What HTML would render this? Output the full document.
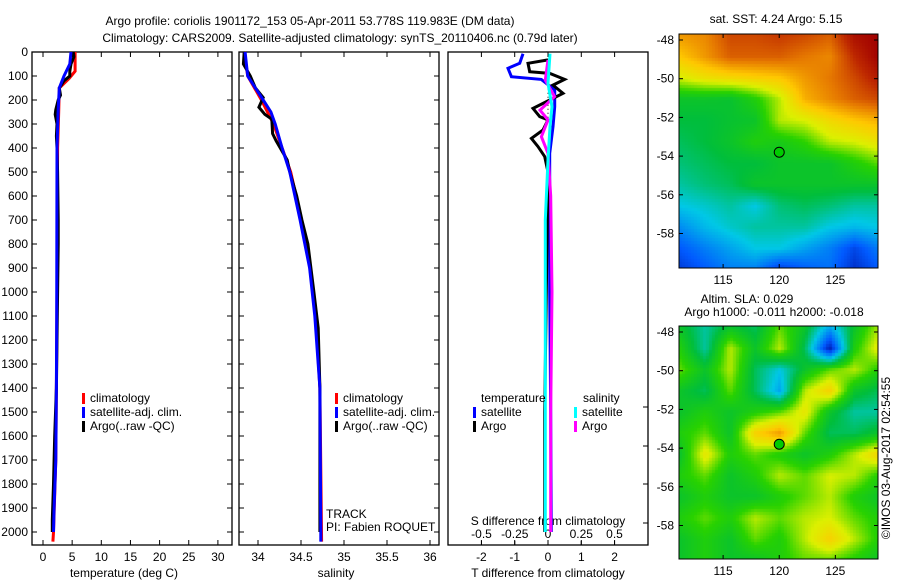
<!DOCTYPE html>
<html><head><meta charset="utf-8">
<style>
html,body{margin:0;padding:0;background:#fff;}
#wrap{position:relative;width:900px;height:580px;overflow:hidden;font-family:"Liberation Sans",sans-serif;}
svg text{font-family:"Liberation Sans",sans-serif;font-size:12px;fill:#000;}
canvas{position:absolute;}
</style></head>
<body>
<div id="wrap">
<canvas id="sst" width="199" height="234" style="left:679px;top:34px"></canvas>
<canvas id="sla" width="199" height="233" style="left:679px;top:326px"></canvas>
<svg id="svg" width="900" height="580" style="position:absolute;left:0;top:0"></svg>
</div>
<script>
// ---------- data ----------
const depthTicks=[0,100,200,300,400,500,600,700,800,900,1000,1100,1200,1300,1400,1500,1600,1700,1800,1900,2000];
const tempTicks=[0,5,10,15,20,25,30];
const salTicks=[34,34.5,35,35.5,36];
const salTickLabels=["34","34.5","35","35.5","36"];
const tdiffTicks=[-2,-1,0,1,2];
const sdiffTicks=[-0.5,-0.25,0,0.25,0.5];
const sdiffTickLabels=["-0.5","-0.25","0","0.25","0.5"];

const argoTdepth=[0,20,50,80,100,120,150,180,200,240,260,300,350,400,500,700,800,1000,1200,1400,1600,1800,1950,2000];
const argoTval=[5.2,5.3,4.8,4.6,4.6,3.6,2.8,3.0,2.6,2.2,2.1,2.4,2.3,2.4,2.5,2.6,2.6,2.5,2.4,2.3,2.0,1.8,1.6,1.6];
const climTdepth=[0,80,110,150,250,400,700,1000,1400,1700,2000,2040];
const climTval=[5.5,5.5,4.5,2.8,2.7,2.5,2.45,2.4,2.3,2.2,1.8,1.7];
const satTdepth=[0,50,100,150,240,400,1100,1400,1700,1900,2000];
const satTval=[4.8,4.6,3.6,2.8,2.6,2.4,2.35,2.3,2.2,1.9,1.8];

const argoSdepth=[0,50,100,150,190,230,260,280,340,370,450,500,600,700,800,1000,1150,1400,1600,2000];
const argoSval=[33.84,33.83,33.91,33.97,34.06,34.01,34.08,34.16,34.17,34.21,34.34,34.37,34.45,34.51,34.58,34.65,34.70,34.72,34.72,34.72];
const climSdepth=[0,100,200,300,500,800,1100,1400,2040];
const climSval=[33.84,33.88,34.04,34.18,34.38,34.57,34.67,34.72,34.74];
const satSdepth=[0,100,150,200,250,300,400,500,700,900,1100,1400,2000,2040];
const satSval=[33.85,33.88,33.97,34.06,34.15,34.2,34.28,34.37,34.49,34.6,34.66,34.72,34.73,34.73];

const satTdiffDepth=[7,47,68,103,114,158,228,311,422,600,1000,1500,2000];
const satTdiffVal=[-0.75,-0.85,-1.2,-1.1,-0.2,0.2,0.2,0.15,0.05,0.05,0.05,0.08,0.1];
const argoTdiffDepth=[33,47,82,89,114,138,172,200,235,269,283,325,360,394,436,500,1000,1500,2000];
const argoTdiffVal=[0,-0.6,-0.55,0.05,0.5,0.15,0.45,0.05,-0.45,-0.25,0,-0.15,-0.5,-0.3,-0.1,0,-0.05,-0.1,-0.1];
const argoSdiffDepth=[33,117,186,242,283,353,422,600,1000,1500,2000];
const argoSdiffVal=[0,-0.02,0.05,-0.06,0,-0.05,0,0.02,0.03,0.02,0.02];
const satSdiffDepth=[7,130,228,311,450,700,1200,2000];
const satSdiffVal=[0.015,0,0.03,0.015,0,-0.02,-0.02,-0.02];

const latTicks=[-48,-50,-52,-54,-56,-58];
const lonTicks=[115,120,125];
const sstGrid=[
[0.78,0.8,0.88,0.88,0.9,0.88,0.85,0.97,1.0],
[0.72,0.78,0.85,0.85,0.85,0.82,0.8,0.92,1.0],
[0.62,0.66,0.68,0.7,0.72,0.78,0.82,0.88,0.95],
[0.45,0.45,0.44,0.5,0.6,0.75,0.8,0.85,0.88],
[0.42,0.42,0.44,0.45,0.6,0.62,0.68,0.72,0.75],
[0.4,0.42,0.45,0.5,0.48,0.52,0.6,0.62,0.66],
[0.38,0.4,0.42,0.42,0.45,0.45,0.45,0.5,0.55],
[0.35,0.38,0.4,0.45,0.45,0.45,0.45,0.45,0.45],
[0.3,0.32,0.35,0.3,0.38,0.4,0.38,0.35,0.35],
[0.22,0.28,0.32,0.35,0.35,0.35,0.3,0.28,0.3],
[0.15,0.2,0.25,0.3,0.3,0.25,0.2,0.12,0.2],
[0.1,0.15,0.2,0.2,0.1,0.15,0.18,0.08,0.15]];
const slaGrid=[
[.45,.35,.45,.4,.55,.45,.25,.45,.6],
[.5,.35,.6,.45,.6,.4,.05,.5,.65],
[.55,.45,.6,.4,.3,.45,.55,.6,.5],
[.45,.4,.55,.4,.25,.6,.7,.45,.4],
[.45,.5,.45,.5,.55,.65,.45,.35,.35],
[.5,.55,.45,.7,.78,.55,.4,.4,.45],
[.45,.65,.5,.55,.5,.45,.5,.6,.7],
[.5,.55,.45,.5,.6,.55,.62,.6,.5],
[.45,.5,.45,.45,.5,.55,.6,.5,.45],
[.5,.55,.5,.6,.55,.6,.62,.55,.5],
[.45,.5,.45,.55,.5,.6,.7,.6,.5],
[.45,.5,.45,.45,.5,.55,.55,.5,.45]];
const argoPos=[120,-53.8];

// ---------- helpers ----------
const svg=document.getElementById('svg');
const NS='http://www.w3.org/2000/svg';
function mk(tag,attrs,parent){const e=document.createElementNS(NS,tag);for(const k in attrs)e.setAttribute(k,attrs[k]);(parent||svg).appendChild(e);return e;}
function txt(x,y,s,anchor,size){const t=mk('text',{x:x,y:y,'text-anchor':anchor||'middle'});if(size)t.setAttribute('font-size',size);t.textContent=s;return t;}
const TOP=52,BOT=545;
const yD=d=>52+d*0.24;
const xT=v=>43+v*5.83;
const xS=v=>258+(v-34)*86;
const xTd=v=>548+v*33.3;
const xSd=v=>548+v*133;
function line(ds,vs,xf,color,name){
  let p=ds.map((d,i)=>(i?'L':'M')+xf(vs[i]).toFixed(1)+' '+yD(d).toFixed(1)).join(' ');
  const e=mk('path',{d:p,fill:'none',stroke:color,'stroke-width':3,'stroke-linejoin':'miter'});
  
  
}
function frame(x0,x1,name){
  const r=mk('rect',{x:x0,y:TOP,width:x1-x0,height:BOT-TOP,fill:'none',stroke:'#000','stroke-width':1.3});
  
  
}

// titles
let t=txt(310,25,'Argo profile: coriolis 1901172_153 05-Apr-2011 53.778S 119.983E (DM data)','middle',13);

t=txt(340,42,'Climatology: CARS2009. Satellite-adjusted climatology: synTS_20110406.nc (0.79d later)','middle',13);


// panel frames
frame(32,232,'temperature-panel');frame(239,439,'salinity-panel');frame(448,648,'difference-panel');

// depth ticks
depthTicks.forEach(d=>{
  const y=yD(d);
  const l=txt(28,y+4,String(d),'end');
  
  [32,239].forEach(x=>mk('line',{x1:x,y1:y,x2:x+5,y2:y,stroke:'#000'}));
  [232,439].forEach(x=>mk('line',{x1:x,y1:y,x2:x-5,y2:y,stroke:'#000'}));
});
[407,446,484,523].forEach(y=>mk('line',{x1:648,y1:y,x2:643,y2:y,stroke:'#000'}));
// x ticks
function xticks(vals,labels,xf,name){vals.forEach((v,i)=>{const x=xf(v);
  mk('line',{x1:x,y1:BOT,x2:x,y2:BOT-5,stroke:'#000'});mk('line',{x1:x,y1:TOP,x2:x,y2:TOP+5,stroke:'#000'});
  const l=txt(x,561,labels[i]);});}
xticks(tempTicks,tempTicks.map(String),xT,'temperature-tick-label');
xticks(salTicks,salTickLabels,xS,'salinity-tick-label');
xticks(tdiffTicks,tdiffTicks.map(String),xTd,'tdiff-tick-label');
sdiffTicks.forEach((v,i)=>{const x=xSd(v);mk('line',{x1:x,y1:BOT,x2:x,y2:BOT-4,stroke:'#000'});
  const l=txt(x,538,sdiffTickLabels[i]);});
t=txt(124,577,'temperature (deg C)');
t=txt(336,577,'salinity');
t=txt(548,577,'T difference from climatology');
t=txt(548,525,'S difference from climatology');

// series
line(climTdepth,climTval,xT,'#f00','temp-climatology-line');
line(argoTdepth,argoTval,xT,'#000','temp-argo-line');
line(satTdepth,satTval,xT,'#00f','temp-satellite-line');
line(climSdepth,climSval,xS,'#f00','sal-climatology-line');
line(argoSdepth,argoSval,xS,'#000','sal-argo-line');
line(satSdepth,satSval,xS,'#00f','sal-satellite-line');
mk('line',{x1:548,y1:yD(120),x2:548,y2:yD(280),stroke:'#000','stroke-dasharray':'1,3'});
line(satTdiffDepth,satTdiffVal,xTd,'#00f','tdiff-satellite-line');
line(argoTdiffDepth,argoTdiffVal,xTd,'#000','tdiff-argo-line');
line(argoSdiffDepth,argoSdiffVal,xSd,'#f0f','sdiff-argo-line');
line(satSdiffDepth,satSdiffVal,xSd,'#0ff','sdiff-satellite-line');

// legends
function leg(x,y,color,label){mk('rect',{x:x,y:y-9,width:3,height:11,fill:color});
  const l=txt(x+8,y,label,'start');}
[[82,'#f00','climatology',402],[82,'#00f','satellite-adj. clim.',416],[82,'#000','Argo(..raw -QC)',430]].forEach(a=>leg(a[0],a[3],a[1],a[2]));
[[335,'#f00','climatology',402],[335,'#00f','satellite-adj. clim.',416],[335,'#000','Argo(..raw -QC)',430]].forEach(a=>leg(a[0],a[3],a[1],a[2]));
t=txt(481,402,'temperature','start');
t=txt(583,402,'salinity','start');
leg(473,416,'#00f','satellite');leg(473,430,'#000','Argo');leg(574,416,'#0ff','satellite');leg(574,430,'#f0f','Argo');
t=txt(326,518,'TRACK','start');
t=txt(326,531,'PI: Fabien ROQUET','start');

// ---------- maps ----------
const LON0=111.07,LON1=128.8;
function cmap(v){
  const st=[[0,[0,0,140]],[0.15,[0,90,255]],[0.3,[0,200,230]],[0.42,[0,190,60]],[0.52,[40,210,0]],[0.62,[220,240,0]],[0.72,[255,200,0]],[0.82,[230,120,0]],[0.92,[190,40,0]],[1,[160,0,0]]];
  v=Math.max(0,Math.min(1,v));
  for(let i=1;i<st.length;i++){if(v<=st[i][0]){const a=st[i-1],b=st[i],f=(v-a[0])/(b[0]-a[0]);
    return 'rgb('+a[1].map((c,k)=>Math.round(c+(b[1][k]-c)*f)).join(',')+')';}}
  return 'rgb(160,0,0)';
}
function drawMap(id,grid){
  const c=document.getElementById(id),g=c.getContext('2d'),W=c.width,H=c.height,R=grid.length,C=grid[0].length,B=3;
  for(let y=0;y<H;y+=B)for(let x=0;x<W;x+=B){
    const gx=x/W*(C-1),gy=y/H*(R-1),i=Math.floor(gy),j=Math.floor(gx),fy=gy-i,fx=gx-j;
    const i2=Math.min(i+1,R-1),j2=Math.min(j+1,C-1);
    const v=grid[i][j]*(1-fx)*(1-fy)+grid[i][j2]*fx*(1-fy)+grid[i2][j]*(1-fx)*fy+grid[i2][j2]*fx*fy;
    g.fillStyle=cmap(v);g.fillRect(x,y,B,B);
  }
}
drawMap('sst',sstGrid);drawMap('sla',slaGrid);
function mapAxes(top,h,latTop,name){
  const bot=top+h,lonX=l=>679+(l-LON0)/(LON1-LON0)*199,latY=l=>top+(latTop-l)*19.35;
  const r=mk('rect',{x:679,y:top,width:199,height:h,fill:'none',stroke:'#000'});
  
  latTicks.forEach(l=>{const y=latY(l);mk('line',{x1:679,y1:y,x2:683,y2:y,stroke:'#000'});mk('line',{x1:878,y1:y,x2:874,y2:y,stroke:'#000'});
    const e=txt(674,y+4,String(l),'end');});
  lonTicks.forEach(l=>{const x=lonX(l);mk('line',{x1:x,y1:top,x2:x,y2:top+4,stroke:'#000'});mk('line',{x1:x,y1:bot,x2:x,y2:bot-4,stroke:'#000'});
    const e=txt(x,bot+16,String(l));});
  const c=mk('circle',{cx:lonX(argoPos[0]),cy:latY(argoPos[1]),r:5,fill:'#0c0',stroke:'#000'});
  
}
mapAxes(34,234,-47.69,'sst-map');mapAxes(326,233,-47.69,'sla-map');
t=txt(776,23,'sat. SST: 4.24 Argo: 5.15');
t=txt(747,303,'Altim. SLA: 0.029');
t=txt(774,316,'Argo h1000: -0.011 h2000: -0.018');
t=mk('text',{x:0,y:0,'text-anchor':'middle',transform:'translate(890,458) rotate(-90)'});t.textContent='©IMOS 03-Aug-2017 02:54:55';

</script>
</body></html>
